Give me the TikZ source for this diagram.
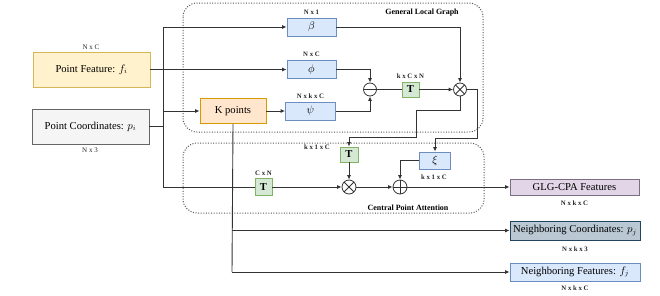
\documentclass[tikz,border=0pt]{standalone}
\usepackage{fontspec}
\setmainfont{Liberation Serif}
\usetikzlibrary{arrows.meta,calc}
\definecolor{pfFill}{HTML}{FFF2CC}\definecolor{pfLine}{HTML}{D6B656}
\definecolor{pcFill}{HTML}{F5F5F5}\definecolor{pcLine}{HTML}{666666}
\definecolor{kpFill}{HTML}{FFE6CC}\definecolor{kpLine}{HTML}{D79B00}
\definecolor{bFill}{HTML}{DAE8FC}\definecolor{bLine}{HTML}{6C8EBF}
\definecolor{gFill}{HTML}{D5E8D4}\definecolor{gLine}{HTML}{82B366}
\definecolor{puFill}{HTML}{E1D5E7}\definecolor{puLine}{HTML}{7A6F80}
\definecolor{slFill}{HTML}{BAC8D3}\definecolor{slLine}{HTML}{23445D}
\definecolor{lineCol}{HTML}{333333}
\definecolor{grpCol}{HTML}{555555}
\tikzset{
 base/.style={draw, line width=0.8pt, inner sep=1pt, align=center, font=\fontsize{10.6}{12}\selectfont},
 yellowbox/.style={base, fill=pfFill, draw=pfLine},
 graybox/.style={base, fill=pcFill, draw=pcLine},
 orangebox/.style={base, fill=kpFill, draw=kpLine},
 bluebox/.style={base, fill=bFill, draw=bLine},
 greenbox/.style={base, fill=gFill, draw=gLine, font=\bfseries\fontsize{10.6}{12}\selectfont},
 purplebox/.style={base, fill=puFill, draw=puLine},
 slatebox/.style={base, fill=slFill, draw=slLine},
 dimlabel/.style={font=\bfseries\fontsize{6.8}{8}\selectfont, inner sep=0pt, text=black!85},
 dimlight/.style={font=\fontsize{7}{8}\selectfont, inner sep=0pt, text=black!85},
 grouptitle/.style={font=\bfseries\fontsize{8}{9}\selectfont, inner sep=0pt},
 conn/.style={line width=0.9pt, draw=lineCol},
 arr/.style={conn, -{Latex[length=4.5pt,width=4pt]}},
 group/.style={draw=grpCol, line width=1pt, dash pattern=on 1pt off 1.6pt, rounded corners=14pt},
 opcirc/.style={circle, draw=lineCol, line width=0.8pt, minimum size=13pt, inner sep=0pt, fill=white},
 ominus/.style={opcirc, path picture={\draw[line width=0.8pt,lineCol] (path picture bounding box.west) -- (path picture bounding box.east);}},
 oplus/.style={opcirc, path picture={\draw[line width=0.8pt,lineCol] (path picture bounding box.west) -- (path picture bounding box.east) (path picture bounding box.north) -- (path picture bounding box.south);}},
 otimes/.style={opcirc, path picture={\draw[line width=0.8pt,lineCol] (path picture bounding box.north west) -- (path picture bounding box.south east) (path picture bounding box.north east) -- (path picture bounding box.south west);}},
}
\begin{document}
\begin{tikzpicture}[x=1pt,y=-1pt]
\useasboundingbox (0,0) rectangle (660,295);
% groups
\draw[group] (183,3) rectangle (483,132);
\draw[group] (183,143) rectangle (484,213);
\node[grouptitle] (tglg) at (422,13) {General Local Graph};
\node[grouptitle] (tcpa) at (408,207.5) {Central Point Attention};
% nodes
\node[yellowbox, minimum width=117pt, minimum height=35pt] (pf) at (91.5,69.5) {Point Feature: $f_i$};
\node[graybox, minimum width=117pt, minimum height=35pt] (pc) at (90.5,126.5) {Point Coordinates: $p_i$};
\node[bluebox, minimum width=49pt, minimum height=18pt] (beta) at (311.5,27) {$\beta$};
\node[bluebox, minimum width=49pt, minimum height=18pt] (phi) at (311.5,69.5) {$\phi$};
\node[bluebox, minimum width=50pt, minimum height=18pt] (psi) at (310.5,111) {$\psi$};
\node[orangebox, minimum width=66pt, minimum height=25pt] (kp) at (233,111) {K points};
\node[ominus] (mi) at (370,89.5) {};
\node[greenbox, minimum width=17pt, minimum height=15pt] (t1) at (410.5,89.5) {T};
\node[otimes] (ox1) at (460,89.5) {};
\node[greenbox, minimum width=18pt, minimum height=15pt] (t2) at (349,154.5) {T};
\node[otimes, minimum size=14pt] (ox2) at (349,187) {};
\node[oplus, minimum size=14pt] (pl) at (400,187) {};
\node[bluebox, minimum width=31pt, minimum height=17pt] (xi) at (435,160.5) {$\xi$};
\node[greenbox, minimum width=17pt, minimum height=17pt] (t3) at (263.5,187) {T};
\node[purplebox, minimum width=129pt, minimum height=16pt] (glg) at (574.5,187) {GLG-CPA Features};
\node[slatebox, minimum width=130pt, minimum height=19pt] (nc) at (575,230.5) {Neighboring Coordinates: $p_j$};
\node[bluebox, minimum width=130pt, minimum height=18pt] (nf) at (575,272) {Neighboring Features: $f_j$};
% dimension labels
\node[dimlight] (dpf) at (91,47) {N x C};
\node[dimlight] (dpc) at (90,150) {N x 3};
\node[dimlabel] (dbeta) at (311.5,12) {N x 1};
\node[dimlabel] (dphi) at (311.5,54) {N x C};
\node[dimlabel] (dpsi) at (310.5,96) {N x k x C};
\node[dimlabel] (dt1) at (410.5,76) {k x C x N};
\node[dimlabel] (dt2) at (317,147) {k x 1 x C};
\node[dimlabel] (dxi) at (434,177) {k x 1 x C};
\node[dimlabel] (dt3) at (263.5,173) {C x N};
\node[dimlabel] (dglg) at (574.5,203) {N x k x C};
\node[dimlabel] (dnc) at (575,249) {N x k x 3};
\node[dimlabel] (dnf) at (575,288) {N x k x C};
% junction coordinates
\coordinate (vj) at (163,126.5);
\coordinate (vtop) at (163,27);
\coordinate (vk) at (163,111);
\coordinate (vbot) at (163,187);
\coordinate (c1) at (477,138);
\coordinate (c2) at (416,110);
\coordinate (c3) at (416,137);
\coordinate (kc) at (232,230.5);
\coordinate (kb) at (232,272);
% connectors
\draw[conn] (pc.east) -- (vj);
\draw[conn] (vtop) -- (vbot);
\draw[arr] (vtop) -- (beta.west);
\draw[arr] (vk) -- (kp.west);
\draw[arr] (pf.east) -- (phi.west);
\draw[arr] (kp.east) -- (psi.west);
\draw[arr] (phi.east) -| (mi.north);
\draw[arr] (psi.east) -| (mi.south);
\draw[conn] (mi.east) -- (t1.west);
\draw[arr] (t1.east) -- (ox1.west);
\draw[arr] (beta.east) -| (ox1.north);
\draw[arr] (ox1.east) -| (c1) -| (xi.north);
\draw[arr] (ox1.south) |- (c2) -- (c3) -| (t2.north);
\draw[arr] (t2.south) -- (ox2.north);
\draw[conn] (vbot) -- (t3.west);
\draw[arr] (t3.east) -- (ox2.west);
\draw[arr] (ox2.east) -- (pl.west);
\draw[arr] (xi.west) -| (pl.north);
\draw[arr] (pl.east) -- (glg.west);
\draw[conn] (kp.south) -- (kb);
\draw[arr] (kc) -- (nc.west);
\draw[arr] (kb) -- (nf.west);
\end{tikzpicture}
\end{document}
